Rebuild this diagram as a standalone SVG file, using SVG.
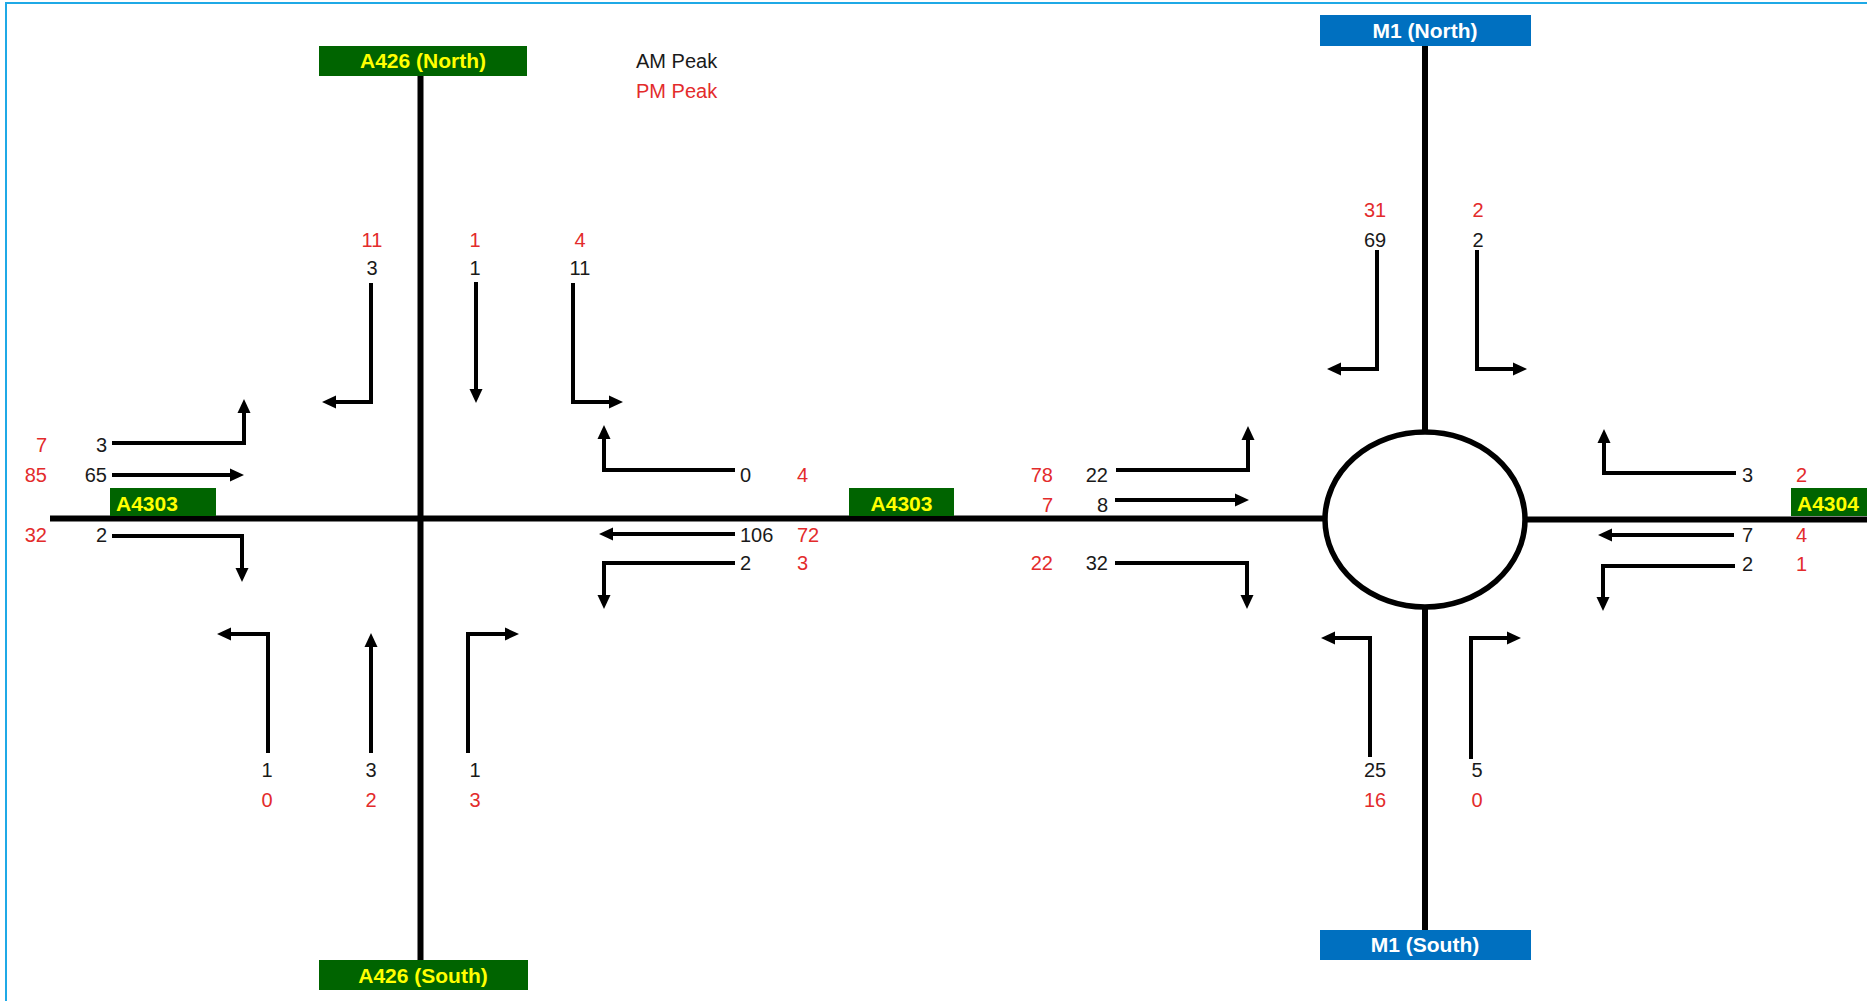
<svg xmlns="http://www.w3.org/2000/svg" width="1867" height="1001" viewBox="0 0 1867 1001">
<style>
.road{stroke:#000;stroke-width:6;fill:none}
.arr{stroke:#000;stroke-width:4;fill:none;stroke-linejoin:miter;marker-end:url(#ah)}
.lbl{font-family:"Liberation Sans",Arial,sans-serif;font-weight:bold;font-size:21px;fill:#ffff00}
.lblw{font-family:"Liberation Sans",Arial,sans-serif;font-weight:bold;font-size:21px;fill:#ffffff}
.am{font-family:"Liberation Sans",Arial,sans-serif;font-size:20px;fill:#1a1a1a}
.pm{font-family:"Liberation Sans",Arial,sans-serif;font-size:20px;fill:#e32b2b}
.c{text-anchor:middle}
.e{text-anchor:end}
.g{fill:#006400}
.b{fill:#0070c0}
</style>
<defs>
<marker id="ah" viewBox="0 -7 14 14" refX="4" refY="0" markerWidth="14" markerHeight="14" markerUnits="userSpaceOnUse" orient="auto">
<path d="M0,-6.5 L14,0 L0,6.5 z" fill="#000"/>
</marker>
</defs>
<rect x="0" y="0" width="1867" height="1001" fill="#fff"/>
<rect x="6" y="3" width="1880" height="1020" fill="none" stroke="#1fa9e6" stroke-width="2"/>

<g id="roads">
<line class="road" x1="420.5" y1="76" x2="420.5" y2="960"/>
<line class="road" x1="50" y1="518.5" x2="1325" y2="518.5"/>
<line class="road" x1="1525" y1="519.5" x2="1867" y2="519.5"/>
<line class="road" x1="1425" y1="46" x2="1425" y2="432"/>
<line class="road" x1="1425" y1="607" x2="1425" y2="930"/>
</g>
<g id="roundabout">
<ellipse cx="1425" cy="519.5" rx="100" ry="87.5" fill="#fff" stroke="#000" stroke-width="5.5"/>
</g>

<g id="label-a426-north"><rect class="g" x="319" y="46" width="208" height="30"/><text class="lbl c" x="423" y="68">A426 (North)</text></g>
<g id="label-a426-south"><rect class="g" x="319" y="960" width="209" height="30"/><text class="lbl c" x="423" y="983">A426 (South)</text></g>
<g id="label-a4303-west"><rect class="g" x="110" y="488" width="106" height="28"/><text class="lbl" x="116" y="511">A4303</text></g>
<g id="label-a4303-mid"><rect class="g" x="849" y="488" width="105" height="28"/><text class="lbl c" x="901.5" y="511">A4303</text></g>
<g id="label-a4304"><rect class="g" x="1791" y="488" width="80" height="28"/><text class="lbl" x="1797" y="511">A4304</text></g>
<g id="label-m1-north"><rect class="b" x="1320" y="15" width="211" height="31"/><text class="lblw c" x="1425" y="38">M1 (North)</text></g>
<g id="label-m1-south"><rect class="b" x="1320" y="930" width="211" height="30"/><text class="lblw c" x="1425" y="952">M1 (South)</text></g>

<g id="legend">
<text class="am" x="636" y="68">AM Peak</text>
<text class="pm" x="636" y="98">PM Peak</text>
</g>

<g id="connectors">
<path class="arr" d="M371,283 V402 H332"/>
<path class="arr" d="M476,282 V393"/>
<path class="arr" d="M573,283 V402 H613"/>
<path class="arr" d="M112,443 H244 V409"/>
<path class="arr" d="M112,475 H234"/>
<path class="arr" d="M112,536 H242 V572"/>
<path class="arr" d="M735,470 H604 V435"/>
<path class="arr" d="M735,534 H609"/>
<path class="arr" d="M735,563 H604 V599"/>
<path class="arr" d="M268,753 V634 H227"/>
<path class="arr" d="M371,753 V643"/>
<path class="arr" d="M468,753 V634 H509"/>
<path class="arr" d="M1116,470 H1248 V436"/>
<path class="arr" d="M1115,500 H1239"/>
<path class="arr" d="M1115,563 H1247 V599"/>
<path class="arr" d="M1377,250 V369 H1337"/>
<path class="arr" d="M1477,250 V369 H1517"/>
<path class="arr" d="M1736,473 H1604 V439"/>
<path class="arr" d="M1734,535 H1608"/>
<path class="arr" d="M1735,566 H1603 V601"/>
<path class="arr" d="M1370,757 V638 H1331"/>
<path class="arr" d="M1471,759 V638 H1511"/>
</g>

<g id="counts-a426-north">
<text class="pm c" x="372" y="247">11</text><text class="am c" x="372" y="275">3</text>
<text class="pm c" x="475" y="247">1</text><text class="am c" x="475" y="275">1</text>
<text class="pm c" x="580" y="247">4</text><text class="am c" x="580" y="275">11</text>
</g>
<g id="counts-a4303-west">
<text class="pm e" x="47" y="452">7</text><text class="am e" x="107" y="452">3</text>
<text class="pm e" x="47" y="482">85</text><text class="am e" x="107" y="482">65</text>
<text class="pm e" x="47" y="542">32</text><text class="am e" x="107" y="542">2</text>
</g>
<g id="counts-a4303-east">
<text class="am" x="740" y="482">0</text><text class="pm" x="797" y="482">4</text>
<text class="am" x="740" y="542">106</text><text class="pm" x="797" y="542">72</text>
<text class="am" x="740" y="570">2</text><text class="pm" x="797" y="570">3</text>
</g>
<g id="counts-a426-south">
<text class="am c" x="267" y="777">1</text><text class="pm c" x="267" y="807">0</text>
<text class="am c" x="371" y="777">3</text><text class="pm c" x="371" y="807">2</text>
<text class="am c" x="475" y="777">1</text><text class="pm c" x="475" y="807">3</text>
</g>
<g id="counts-rb-west">
<text class="pm e" x="1053" y="482">78</text><text class="am e" x="1108" y="482">22</text>
<text class="pm e" x="1053" y="512">7</text><text class="am e" x="1108" y="512">8</text>
<text class="pm e" x="1053" y="570">22</text><text class="am e" x="1108" y="570">32</text>
</g>
<g id="counts-m1-north">
<text class="pm c" x="1375" y="217">31</text><text class="am c" x="1375" y="247">69</text>
<text class="pm c" x="1478" y="217">2</text><text class="am c" x="1478" y="247">2</text>
</g>
<g id="counts-a4304">
<text class="am" x="1742" y="482">3</text><text class="pm" x="1796" y="482">2</text>
<text class="am" x="1742" y="542">7</text><text class="pm" x="1796" y="542">4</text>
<text class="am" x="1742" y="571">2</text><text class="pm" x="1796" y="571">1</text>
</g>
<g id="counts-m1-south">
<text class="am c" x="1375" y="777">25</text><text class="pm c" x="1375" y="807">16</text>
<text class="am c" x="1477" y="777">5</text><text class="pm c" x="1477" y="807">0</text>
</g>
</svg>
